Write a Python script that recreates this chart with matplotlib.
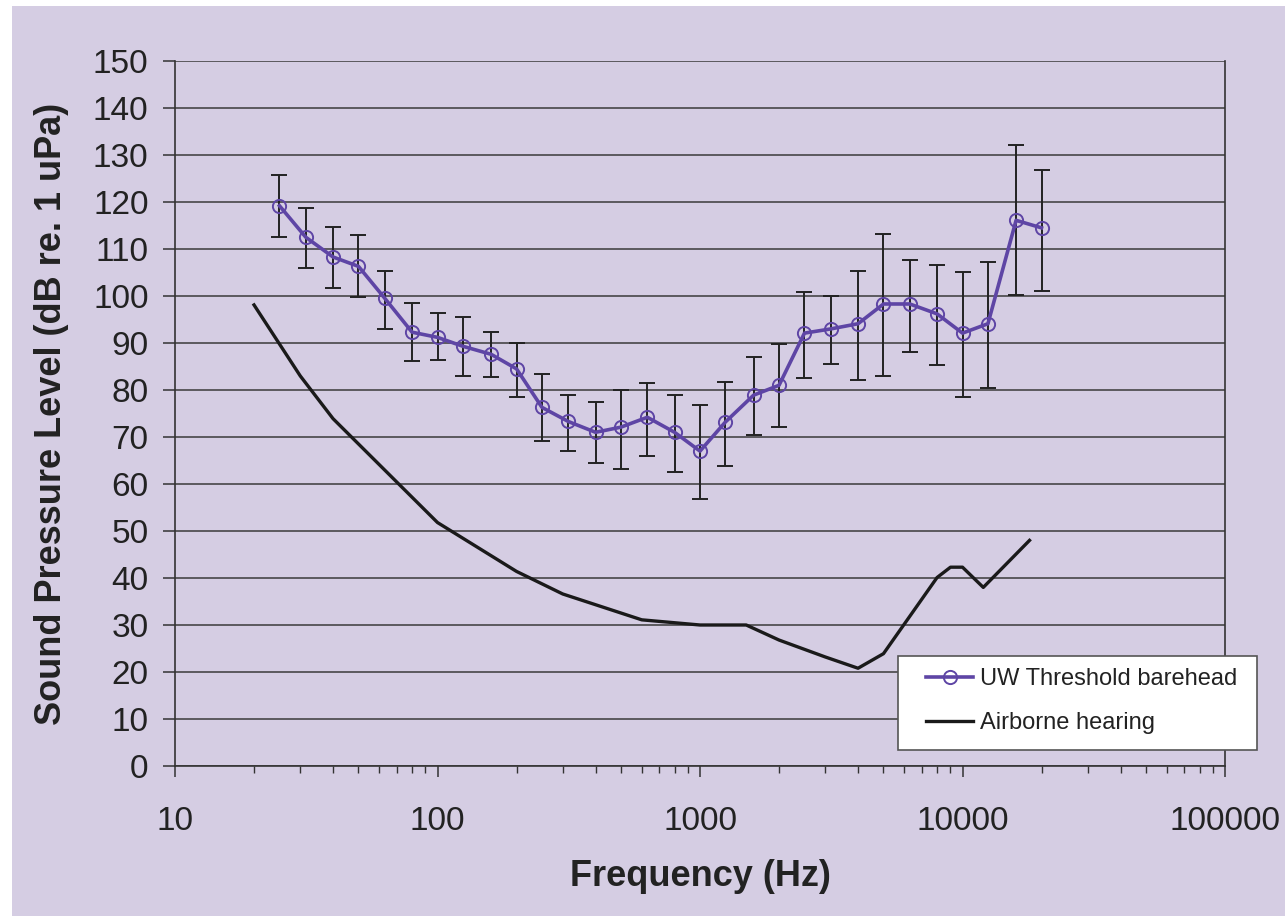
import matplotlib
matplotlib.use('Agg')
import matplotlib.pyplot as plt
import numpy as np
from matplotlib.patches import Rectangle
from matplotlib.ticker import LogLocator, NullFormatter, FixedLocator

plt.rcParams['font.family'] = ['Liberation Sans', 'DejaVu Sans']

# underwater threshold, 1/3 octave bands
uw_freq = [25, 31.5, 40, 50, 63, 80, 100, 125, 160, 200, 250, 315, 400, 500, 630,
           800, 1000, 1250, 1600, 2000, 2500, 3150, 4000, 5000, 6300, 8000, 10000,
           12500, 16000, 20000]
uw_mean = [119.2, 112.5, 108.3, 106.3, 99.5, 92.3, 91.2, 89.3, 87.6, 84.5, 76.3, 73.3,
           71.0, 72.1, 74.2, 71.0, 67.0, 73.2, 78.9, 81.0, 92.1, 93.0, 94.1, 98.3,
           98.3, 96.2, 92.1, 94.1, 116.1, 114.5]
uw_upper = [125.8, 118.8, 114.7, 112.9, 105.4, 98.6, 96.3, 95.6, 92.3, 90.1, 83.3, 79.0,
            77.4, 80.1, 81.5, 79.0, 76.9, 81.8, 87.0, 89.8, 100.9, 100.1, 105.4, 113.2,
            107.7, 106.6, 105.2, 107.2, 132.1, 126.9]
uw_lower = [112.6, 105.9, 101.8, 99.7, 92.9, 86.1, 86.4, 83.0, 82.7, 78.6, 69.2, 67.0,
            64.4, 63.2, 66.0, 62.6, 56.8, 63.9, 70.5, 72.2, 82.5, 85.5, 82.2, 83.0,
            88.1, 85.3, 78.5, 80.5, 100.3, 101.1]

# airborne hearing threshold
air_freq = [20, 30, 40, 100, 200, 300, 600, 1000, 1500, 2000, 3000, 4000, 5000,
            8000, 9000, 10000, 12000, 18000]
air_db = [98.1, 83.0, 73.9, 51.8, 41.4, 36.6, 31.1, 30.0, 30.0, 26.8, 23.2, 20.8,
          23.9, 40.1, 42.3, 42.3, 38.0, 48.0]

bg = '#D5CDE3'
purple = '#5E45A5'

fig = plt.figure(figsize=(12.85, 9.16), dpi=100, facecolor='white')
fig.patches.append(Rectangle((12 / 1285, 0), 1, 1 - 6 / 916, transform=fig.transFigure,
                             facecolor=bg, edgecolor='none', zorder=-1))
ax = fig.add_axes([175 / 1285, 1 - 766 / 916, 1050 / 1285, 705 / 916])
ax.set_facecolor(bg)

mean = np.array(uw_mean)
yerr = [mean - np.array(uw_lower), np.array(uw_upper) - mean]
ax.errorbar(uw_freq, uw_mean, yerr=yerr, fmt='none', ecolor='#222222',
            elinewidth=1.4, capsize=6, capthick=1.4, zorder=3)
ax.plot(uw_freq, uw_mean, color=purple, lw=2.6, marker='o', ms=9.5,
        mfc='none', mec=purple, mew=1.4, label='UW Threshold barehead', zorder=4)
ax.plot(air_freq, air_db, color='#1a1a1a', lw=2.4, label='Airborne hearing', zorder=3)

ax.set_xscale('log')
ax.set_xlim(10, 100000)
ax.set_ylim(0, 150)
ax.set_yticks(range(0, 151, 10))
ax.xaxis.set_major_locator(FixedLocator([10, 100, 1000, 10000, 100000]))
ax.set_xticklabels(['10', '100', '1000', '10000', '100000'])
ax.xaxis.set_minor_locator(LogLocator(base=10, subs=np.arange(2, 10)))
ax.xaxis.set_minor_formatter(NullFormatter())

ax.grid(axis='y', color='#3a3a3a', lw=1.1)
ax.set_axisbelow(True)
for s in ['left', 'bottom', 'right']:
    ax.spines[s].set_color('#333333')
    ax.spines[s].set_linewidth(1.2)
ax.spines['top'].set_visible(False)

ax.tick_params(axis='y', direction='out', length=9, width=1.1, color='#333333',
               labelsize=24, pad=10, labelcolor='#222222')
ax.tick_params(axis='x', which='major', direction='out', length=8, width=1.1,
               color='#333333', labelsize=24, pad=21, labelcolor='#222222')
ax.tick_params(axis='x', which='minor', direction='out', length=5, width=1.0,
               color='#333333')

ax.set_xlabel('Frequency (Hz)', fontsize=26, fontweight='bold', color='#222222')
ax.set_ylabel('Sound Pressure Level (dB re. 1 uPa)', fontsize=26, fontweight='bold',
              color='#222222')
ax.xaxis.set_label_coords(0.5, (766 - 877) / 705)
ax.xaxis.label.set_va('center')
ax.yaxis.set_label_coords((52 - 175) / 1050, 0.5)
ax.yaxis.label.set_va('center')

# legend box drawn separately so the inner padding can match
box = Rectangle(((898 - 175) / 1050, (766 - 750) / 705), 359 / 1050, 94 / 705,
                transform=ax.transAxes, facecolor='white', edgecolor='#555555',
                lw=1.2, clip_on=False, zorder=9)
ax.add_patch(box)
leg = ax.legend(loc='upper left', bbox_to_anchor=((926 - 175) / 1050, (766 - 668) / 705),
                fontsize=17, frameon=False, handlelength=2.0, handletextpad=0.28,
                labelspacing=0.95, borderaxespad=0, borderpad=0)
leg.set_zorder(10)
for t in leg.get_texts():
    t.set_color('#222222')

fig.savefig('out.png', dpi=100, facecolor=fig.get_facecolor())
